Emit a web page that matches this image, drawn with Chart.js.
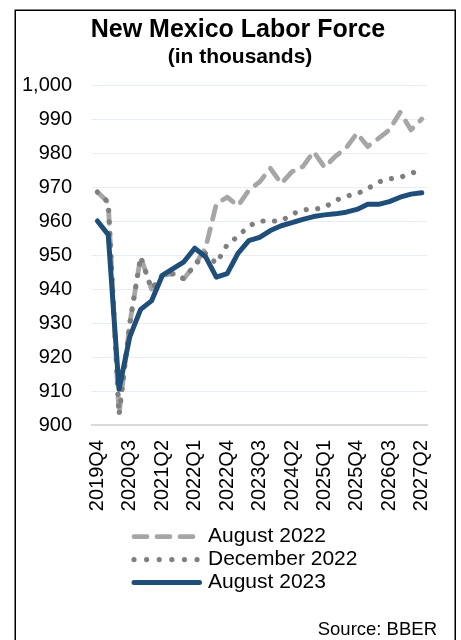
<!DOCTYPE html>
<html>
<head>
<meta charset="utf-8">
<script src="https://cdn.jsdelivr.net/npm/chart.js@4"></script>
<style>
  html, body { margin: 0; padding: 0; background: #fff; }
  #wrap { position: relative; width: 461px; height: 640px; overflow: hidden; }
  canvas { display: block; }
</style>
</head>
<body>
<div id="wrap"><canvas id="c" width="461" height="640"></canvas></div>
<script>
// Quarters on the x axis
const quarters = ['2019Q4','2020Q1','2020Q2','2020Q3','2020Q4','2021Q1','2021Q2','2021Q3','2021Q4',
  '2022Q1','2022Q2','2022Q3','2022Q4','2023Q1','2023Q2','2023Q3','2023Q4','2024Q1','2024Q2','2024Q3','2024Q4',
  '2025Q1','2025Q2','2025Q3','2025Q4','2026Q1','2026Q2','2026Q3','2026Q4','2027Q1','2027Q2'];

// Quarters that get a printed label
const labeledQuarters = ['2019Q4','2020Q3','2021Q2','2022Q1','2022Q4','2023Q3','2024Q2','2025Q1','2025Q4','2026Q3','2027Q2'];

// Labor force forecasts, thousands of persons
const aug2022 = [968.5, 965.5, 903, 930, 949.5, 940, 944, 944.5, 943, 947, 952, 965, 967, 964.5, 969, 971.5,
  975.5, 971, 974.5, 976, 980.4, 975.8, 979, 981.5, 985.8, 981.9, 984.3, 986.8, 992, 986.8, 990];
const dec2022 = [968.5, 965.5, 903, 930, 949.5, 940, 944, 944.5, 943, 947, 950.5, 947.5, 953, 955.5, 958.5, 960,
  960, 960, 962, 963.3, 963.4, 964, 966, 967.3, 968, 969.5, 971.5, 972.4, 972.8, 974, 975];
const aug2023 = [960, 956, 910.5, 926, 934, 936.5, 944, 946, 948, 952, 949.5, 943.5, 944.5, 950.5, 954.2, 955.2,
  957.2, 958.6, 959.5, 960.5, 961.3, 961.8, 962.1, 962.6, 963.4, 964.9, 964.9, 965.7, 967, 967.9, 968.3];

const seriesNames = ['August 2022', 'December 2022', 'August 2023'];
const titleText = 'New Mexico Labor Force';
const subtitleText = '(in thousands)';
const sourceText = 'Source: BBER';

const FONT = "'Liberation Sans', Arial, sans-serif";
Chart.defaults.font.family = FONT;
Chart.defaults.color = '#000';

// Frame, headings, legend and source line drawn around the plot
const framePlugin = {
  id: 'frame',
  beforeDraw(chart) {
    const ctx = chart.ctx;
    ctx.save();
    ctx.fillStyle = '#fff';
    ctx.fillRect(0, 0, chart.width, chart.height);
    ctx.restore();
  },
  afterDraw(chart) {
    const ctx = chart.ctx;
    ctx.save();
    ctx.strokeStyle = '#000';
    ctx.lineWidth = 1.5;
    ctx.strokeRect(15.25, 10.25, 440, 700);

    ctx.fillStyle = '#000';
    ctx.textAlign = 'center';
    ctx.textBaseline = 'middle';
    ctx.font = 'bold 25px ' + FONT;
    ctx.fillText(titleText, 238, 30.5);
    ctx.font = 'bold 21px ' + FONT;
    ctx.fillText(subtitleText, 240, 57);

    chart.data.datasets.forEach((ds, i) => {
      const y = 536.7 + i * 22.9;
      ctx.strokeStyle = ds.borderColor;
      ctx.lineWidth = ds.borderWidth;
      ctx.lineCap = 'round';
      ctx.setLineDash(ds.legendDash || []);
      ctx.beginPath();
      ctx.moveTo(134, y);
      ctx.lineTo(199.5, y);
      ctx.stroke();
      ctx.setLineDash([]);
      ctx.fillStyle = '#000';
      ctx.font = '21px ' + FONT;
      ctx.textAlign = 'left';
      ctx.fillText(ds.label, 208, y);
    });

    ctx.font = '18.5px ' + FONT;
    ctx.textAlign = 'right';
    ctx.fillText(sourceText, 437, 630);
    ctx.restore();
  }
};

new Chart(document.getElementById('c'), {
  type: 'line',
  data: {
    labels: quarters,
    datasets: [
      {
        label: seriesNames[0], data: aug2022, order: 2,
        borderColor: '#a6a6a6', borderWidth: 4.8, borderDash: [13, 10], legendDash: [13, 10],
        borderCapStyle: 'round', borderJoinStyle: 'round', pointRadius: 0, tension: 0, fill: false
      },
      {
        label: seriesNames[1], data: dec2022, order: 1,
        borderColor: '#7f7f7f', borderWidth: 5.2, borderDash: [0.01, 11.5], legendDash: [0.01, 12.6],
        borderCapStyle: 'round', borderJoinStyle: 'round', pointRadius: 0, tension: 0, fill: false
      },
      {
        label: seriesNames[2], data: aug2023, order: 0,
        borderColor: '#1f4e79', borderWidth: 5,
        borderCapStyle: 'round', borderJoinStyle: 'round', pointRadius: 0, tension: 0, fill: false
      }
    ]
  },
  options: {
    responsive: false,
    animation: false,
    devicePixelRatio: 1,
    layout: { padding: { top: 85, left: 0, right: 13, bottom: 0 } },
    plugins: {
      legend: { display: false },
      title: { display: false },
      tooltip: { enabled: false }
    },
    scales: {
      x: {
        offset: true,
        grid: { display: false, drawTicks: false },
        border: { display: true, color: '#d9d9d9', width: 2 },
        ticks: {
          autoSkip: false,
          minRotation: 90,
          maxRotation: 90,
          padding: 15,
          color: '#000',
          font: { size: 20 },
          callback(value) {
            const q = this.getLabelForValue(value);
            return labeledQuarters.includes(q) ? q : '';
          }
        },
        afterFit(scale) { scale.height = 215; }
      },
      y: {
        min: 900,
        max: 1000,
        border: { display: false },
        grid: {
          drawTicks: false,
          color: (c) => c.tick && c.tick.value === 900 ? '#d9d9d9' : '#e8edf4',
          lineWidth: (c) => c.tick && c.tick.value === 900 ? 2 : 1
        },
        ticks: { stepSize: 10, padding: 20, color: '#000', font: { size: 20 } },
        afterFit(scale) { scale.width = 92; }
      }
    }
  },
  plugins: [framePlugin]
});
</script>
</body>
</html>
